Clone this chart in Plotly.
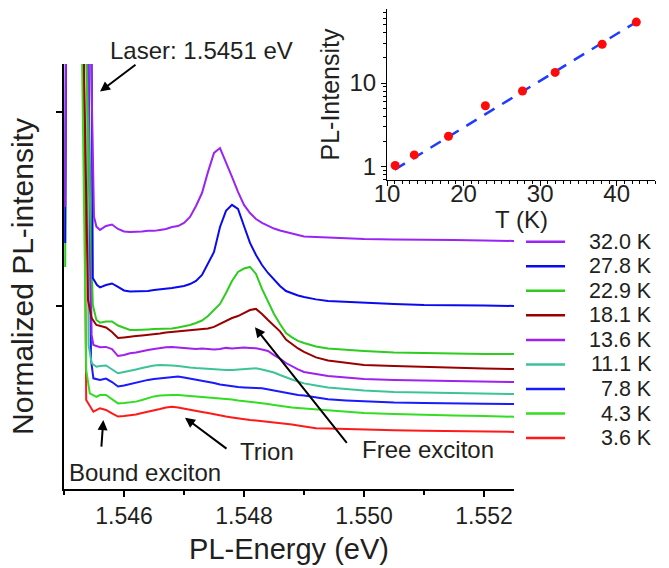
import plotly.graph_objects as go

# ---------------- data ----------------
labels = ["3.6 K", "4.3 K", "7.8 K", "11.1 K", "13.6 K", "18.1 K", "22.9 K", "27.8 K", "32.0 K"]
colors = ["#FF1A1A", "#33DD22", "#1A1AFF", "#3CC39A", "#A020F0", "#990000", "#2ECC1F", "#0A0AF0", "#9A24F5"]

energy = [1.5456, 1.5457, 1.5458, 1.5459, 1.5460, 1.5461, 1.5462, 1.5463, 1.5464, 1.5465,
          1.5466, 1.5467, 1.5468, 1.5469, 1.5470, 1.5471, 1.5472, 1.5473, 1.5474, 1.5475,
          1.5476, 1.5477, 1.5478, 1.5479, 1.5480, 1.5481, 1.5482, 1.5483, 1.5484, 1.5485,
          1.5486, 1.5487, 1.5488, 1.5489, 1.5490, 1.5492, 1.5494, 1.5497, 1.5500, 1.5505,
          1.5510, 1.5515, 1.5520, 1.5525]

i_3p6 = [0.473, 0.464, 0.446, 0.430, 0.433, 0.436, 0.441, 0.448, 0.454, 0.461, 0.469, 0.477, 0.481, 0.477, 0.472,
         0.464, 0.459, 0.454, 0.448, 0.441, 0.436, 0.430, 0.425, 0.420, 0.415, 0.412, 0.410, 0.407, 0.402, 0.399,
         0.397, 0.394, 0.389, 0.384, 0.379, 0.370, 0.369, 0.366, 0.363, 0.360, 0.357, 0.354, 0.353, 0.351]
i_4p3 = [0.541, 0.541, 0.521, 0.498, 0.500, 0.503, 0.507, 0.515, 0.526, 0.534, 0.539, 0.541, 0.541, 0.541, 0.539,
         0.536, 0.534, 0.531, 0.528, 0.526, 0.523, 0.521, 0.518, 0.513, 0.510, 0.507, 0.503, 0.500, 0.495, 0.490,
         0.485, 0.479, 0.477, 0.474, 0.472, 0.466, 0.461, 0.455, 0.448, 0.443, 0.438, 0.436, 0.433, 0.429]
i_7p8 = [0.619, 0.626, 0.608, 0.585, 0.590, 0.598, 0.603, 0.611, 0.619, 0.624, 0.627, 0.631, 0.634, 0.636, 0.631,
         0.626, 0.621, 0.616, 0.611, 0.603, 0.595, 0.590, 0.585, 0.582, 0.580, 0.577, 0.577, 0.576, 0.570, 0.562,
         0.557, 0.552, 0.546, 0.541, 0.539, 0.528, 0.519, 0.513, 0.508, 0.502, 0.500, 0.497, 0.496, 0.495]
i_11p1 = [0.691, 0.693, 0.675, 0.653, 0.660, 0.668, 0.673, 0.680, 0.688, 0.693, 0.696, 0.696, 0.693, 0.691, 0.686,
          0.683, 0.680, 0.678, 0.675, 0.673, 0.670, 0.670, 0.670, 0.673, 0.675, 0.678, 0.679, 0.673, 0.665, 0.657,
          0.644, 0.631, 0.621, 0.611, 0.601, 0.590, 0.580, 0.572, 0.564, 0.557, 0.554, 0.552, 0.549, 0.546]
i_13p6 = [0.787, 0.789, 0.778, 0.742, 0.747, 0.756, 0.760, 0.768, 0.773, 0.778, 0.784, 0.787, 0.789, 0.786, 0.784,
          0.782, 0.778, 0.781, 0.778, 0.776, 0.778, 0.784, 0.781, 0.784, 0.786, 0.784, 0.782, 0.776, 0.768, 0.747,
          0.729, 0.706, 0.688, 0.673, 0.660, 0.649, 0.639, 0.631, 0.624, 0.619, 0.616, 0.613, 0.611, 0.608]
i_18p1 = [0.897, 0.889, 0.866, 0.835, 0.838, 0.843, 0.845, 0.848, 0.851, 0.853, 0.858, 0.863, 0.866, 0.869, 0.871,
          0.874, 0.876, 0.879, 0.884, 0.892, 0.907, 0.923, 0.938, 0.948, 0.964, 0.979, 0.985, 0.959, 0.928, 0.897,
          0.869, 0.827, 0.802, 0.781, 0.763, 0.735, 0.719, 0.706, 0.696, 0.691, 0.686, 0.683, 0.678, 0.675]
i_22p9 = [0.914, 0.920, 0.920, 0.899, 0.887, 0.876, 0.876, 0.879, 0.879, 0.881, 0.881, 0.884, 0.884, 0.889, 0.894,
          0.902, 0.912, 0.925, 0.948, 0.979, 1.010, 1.067, 1.129, 1.175, 1.193, 1.201, 1.165, 1.088, 1.021, 0.959,
          0.907, 0.861, 0.838, 0.820, 0.809, 0.791, 0.781, 0.773, 0.768, 0.760, 0.756, 0.755, 0.753, 0.753]
i_27p8 = [1.096, 1.108, 1.116, 1.098, 1.080, 1.075, 1.075, 1.077, 1.077, 1.082, 1.085, 1.088, 1.093, 1.098, 1.103,
          1.113, 1.129, 1.160, 1.222, 1.278, 1.407, 1.490, 1.521, 1.500, 1.412, 1.325, 1.263, 1.211, 1.170, 1.134,
          1.103, 1.077, 1.064, 1.054, 1.046, 1.034, 1.026, 1.021, 1.015, 1.010, 1.005, 1.005, 1.003, 1.000]
i_32p0 = [1.392, 1.412, 1.420, 1.397, 1.384, 1.381, 1.381, 1.384, 1.387, 1.387, 1.392, 1.397, 1.407, 1.412, 1.428,
          1.459, 1.515, 1.582, 1.691, 1.789, 1.814, 1.742, 1.665, 1.588, 1.521, 1.479, 1.448, 1.428, 1.412, 1.399,
          1.389, 1.381, 1.374, 1.366, 1.358, 1.356, 1.353, 1.351, 1.345, 1.343, 1.340, 1.340, 1.338, 1.335]

# laser line region (peak goes far off scale)
laser_x_3p6 = [1.5451, 1.54533, 1.54537, 1.54541, 1.54549]
laser_y_3p6 = [8.0, 2.30, 0.515, 0.495, 0.455]
laser_x_4p3 = [1.5451, 1.54530, 1.54537, 1.54543, 1.54554]
laser_y_4p3 = [8.0, 2.30, 0.670, 0.550, 0.532]
laser_x_7p8 = [1.5451, 1.54541, 1.54545, 1.54549]
laser_y_7p8 = [8.0, 2.30, 0.722, 0.627]
laser_x_11p1 = [1.5451, 1.54538, 1.54541, 1.54546, 1.54554]
laser_y_11p1 = [8.0, 2.30, 0.799, 0.705, 0.687]
laser_x_13p6 = [1.5451, 1.54540, 1.54546, 1.54549]
laser_y_13p6 = [8.0, 2.30, 0.851, 0.799]
laser_x_18p1 = [1.5451, 1.54533, 1.54540, 1.54546, 1.54554]
laser_y_18p1 = [8.0, 2.30, 1.031, 0.937, 0.902]
laser_x_22p9 = [1.54502, 1.5451, 1.54537, 1.54548, 1.54554]
laser_y_22p9 = [1.201, 8.0, 2.30, 1.005, 0.928]
laser_x_27p8 = [1.54502, 1.5451, 1.54546, 1.54548, 1.54555]
laser_y_27p8 = [1.325, 8.0, 2.30, 1.144, 1.108]
laser_x_32p0 = [1.54502, 1.5451, 1.54545, 1.54550, 1.54554]
laser_y_32p0 = [1.510, 8.0, 2.30, 1.460, 1.409]

intensities = [i_3p6, i_4p3, i_7p8, i_11p1, i_13p6, i_18p1, i_22p9, i_27p8, i_32p0]
laser_xs = [laser_x_3p6, laser_x_4p3, laser_x_7p8, laser_x_11p1, laser_x_13p6,
            laser_x_18p1, laser_x_22p9, laser_x_27p8, laser_x_32p0]
laser_ys = [laser_y_3p6, laser_y_4p3, laser_y_7p8, laser_y_11p1, laser_y_13p6,
            laser_y_18p1, laser_y_22p9, laser_y_27p8, laser_y_32p0]

# inset
inset_T = [11.07, 13.56, 18.03, 22.85, 27.7, 31.96, 38.1, 42.56]
inset_I = [1.03, 1.38, 2.31, 5.35, 8.04, 13.4, 29.1, 53.6]
fit_T = [11.0, 42.4]
fit_I = [0.92, 52.6]

main_xticks = [1.546, 1.548, 1.550, 1.552]

# ---------------- figure ----------------
W, H = 669, 568
FONT = "Liberation Sans, Arial, Helvetica, sans-serif"
TXT = "#231F20"

def px_x(p):
    return p / W

def px_y(p):
    return 1 - p / H

fig = go.Figure()

for lab, col, iy, lx, ly in zip(labels, colors, intensities, laser_xs, laser_ys):
    fig.add_trace(go.Scatter(x=lx + energy, y=ly + iy, mode="lines", name=lab,
                             line=dict(color=col, width=2), xaxis="x", yaxis="y",
                             showlegend=False, hoverinfo="skip"))

fig.add_trace(go.Scatter(x=fit_T, y=fit_I, mode="lines", xaxis="x2", yaxis="y2",
                         line=dict(color="#1F3BFF", width=2.5, dash="12px,9px"),
                         showlegend=False))
fig.add_trace(go.Scatter(x=inset_T, y=inset_I, mode="markers", xaxis="x2", yaxis="y2",
                         marker=dict(color="#FF0A0A", size=9), showlegend=False))

fig.update_layout(
    width=W, height=H,
    margin=dict(l=0, r=0, t=0, b=0, autoexpand=False),
    paper_bgcolor="white", plot_bgcolor="rgba(0,0,0,0)",
    font=dict(family=FONT, color=TXT),
    xaxis=dict(domain=[px_x(64), px_x(514)], range=[1.545, 1.5525], anchor="y", automargin=False,
               tickvals=main_xticks, tickformat=".3f", ticks="outside", ticklen=6, tickwidth=1.5,
               tickcolor="black", showline=True, linecolor="black", linewidth=1.5,
               showgrid=False, zeroline=False, tickfont=dict(size=23, color=TXT),
               minor=dict(tickvals=[1.545, 1.547, 1.549, 1.551], ticks="outside", ticklen=4,
                          tickwidth=1.5, tickcolor="black"),
               title=dict(text="PL-Energy (eV)", font=dict(size=29, color=TXT), standoff=10)),
    yaxis=dict(domain=[px_y(489), px_y(64)], range=[0.0567, 2.247], anchor="x", automargin=False,
               tickvals=[1, 2], showticklabels=False, ticks="outside", ticklen=6, tickwidth=1.5,
               tickcolor="black", showline=True, linecolor="black", linewidth=1.5,
               showgrid=False, zeroline=False,
               title=dict(text="Normalized PL-intensity", font=dict(size=30, color=TXT), standoff=14)),
    xaxis2=dict(domain=[px_x(387), px_x(655)], range=[10, 45], anchor="y2", automargin=False,
                tickvals=[10, 20, 30, 40], ticks="outside", ticklen=5, tickwidth=1.2,
                tickcolor="black", showline=True, linecolor="black", linewidth=1.2,
                showgrid=False, zeroline=False, tickfont=dict(size=24, color=TXT),
                ticklabelstandoff=-13,
                minor=dict(dtick=1, ticks="outside", ticklen=2.5, tickwidth=1, tickcolor="black")),
    yaxis2=dict(domain=[px_y(180), px_y(9)], type="log", range=[-0.16, 1.886], anchor="x2",
                automargin=False,
                tickvals=[1, 10], ticktext=["1", "10"], ticks="outside", ticklen=5, tickwidth=1.2,
                tickcolor="black", showline=True, linecolor="black", linewidth=1.2,
                showgrid=False, zeroline=False, tickfont=dict(size=24, color=TXT),
                minor=dict(ticks="outside", ticklen=3, tickwidth=1, tickcolor="black",
                           tickvals=[0.7, 0.8, 0.9, 2, 3, 4, 5, 6, 7, 8, 9, 20, 30, 40, 50, 60, 70]),
                title=dict(text="PL-Intensity", font=dict(size=25, color=TXT), standoff=2)),
)

ann = []
arrow = dict(showarrow=True, arrowhead=2, arrowsize=1, arrowwidth=2, arrowcolor="black",
             text="", xref="x", yref="y")
center = dict(showarrow=False, xanchor="center", yanchor="middle")
# inset x title
ann.append(dict(center, text="T (K)", x=px_x(521), y=px_y(220), xref="paper", yref="paper",
                font=dict(size=24, color=TXT)))
# Laser
ann.append(dict(arrow, x=1.5456, y=2.105, ax=37, ay=-28))
ann.append(dict(center, text="Laser: 1.5451 eV", x=px_x(201.7), y=px_y(50.7), xref="paper", yref="paper",
                font=dict(size=24, color=TXT)))
# Free exciton
ann.append(dict(arrow, x=1.548183, y=0.890, ax=93, ay=117))
ann.append(dict(center, text="Free exciton", x=1.551067, y=0.258, xref="x", yref="y",
                font=dict(size=24, color=TXT)))
# Trion
ann.append(dict(arrow, x=1.547017, y=0.424, ax=43, ay=32))
ann.append(dict(center, text="Trion", x=1.548388, y=0.249, xref="x", yref="y",
                font=dict(size=24, color=TXT)))
# Bound exciton
ann.append(dict(arrow, x=1.545655, y=0.412, ax=-2, ay=28))
ann.append(dict(center, text="Bound exciton", x=1.546342, y=0.144, xref="x", yref="y",
                font=dict(size=24, color=TXT)))

# custom legend (top entry = highest temperature)
shapes = []
leg_top, leg_step = 241.7, 24.55
for k, (lab, col) in enumerate(zip(labels[::-1], colors[::-1])):
    yy = px_y(leg_top + k * leg_step)
    shapes.append(dict(type="line", xref="paper", yref="paper", x0=px_x(526), x1=px_x(565),
                       y0=yy, y1=yy, line=dict(color=col, width=2.5)))
    ann.append(dict(text=lab, x=px_x(654), y=yy, xref="paper", yref="paper", xanchor="right",
                    yanchor="middle", showarrow=False, font=dict(size=21.5, color=TXT)))

fig.update_layout(annotations=ann, shapes=shapes)

fig.write_html("out.html", config={"displayModeBar": False},
               post_script="document.body.style.margin='0px';")
